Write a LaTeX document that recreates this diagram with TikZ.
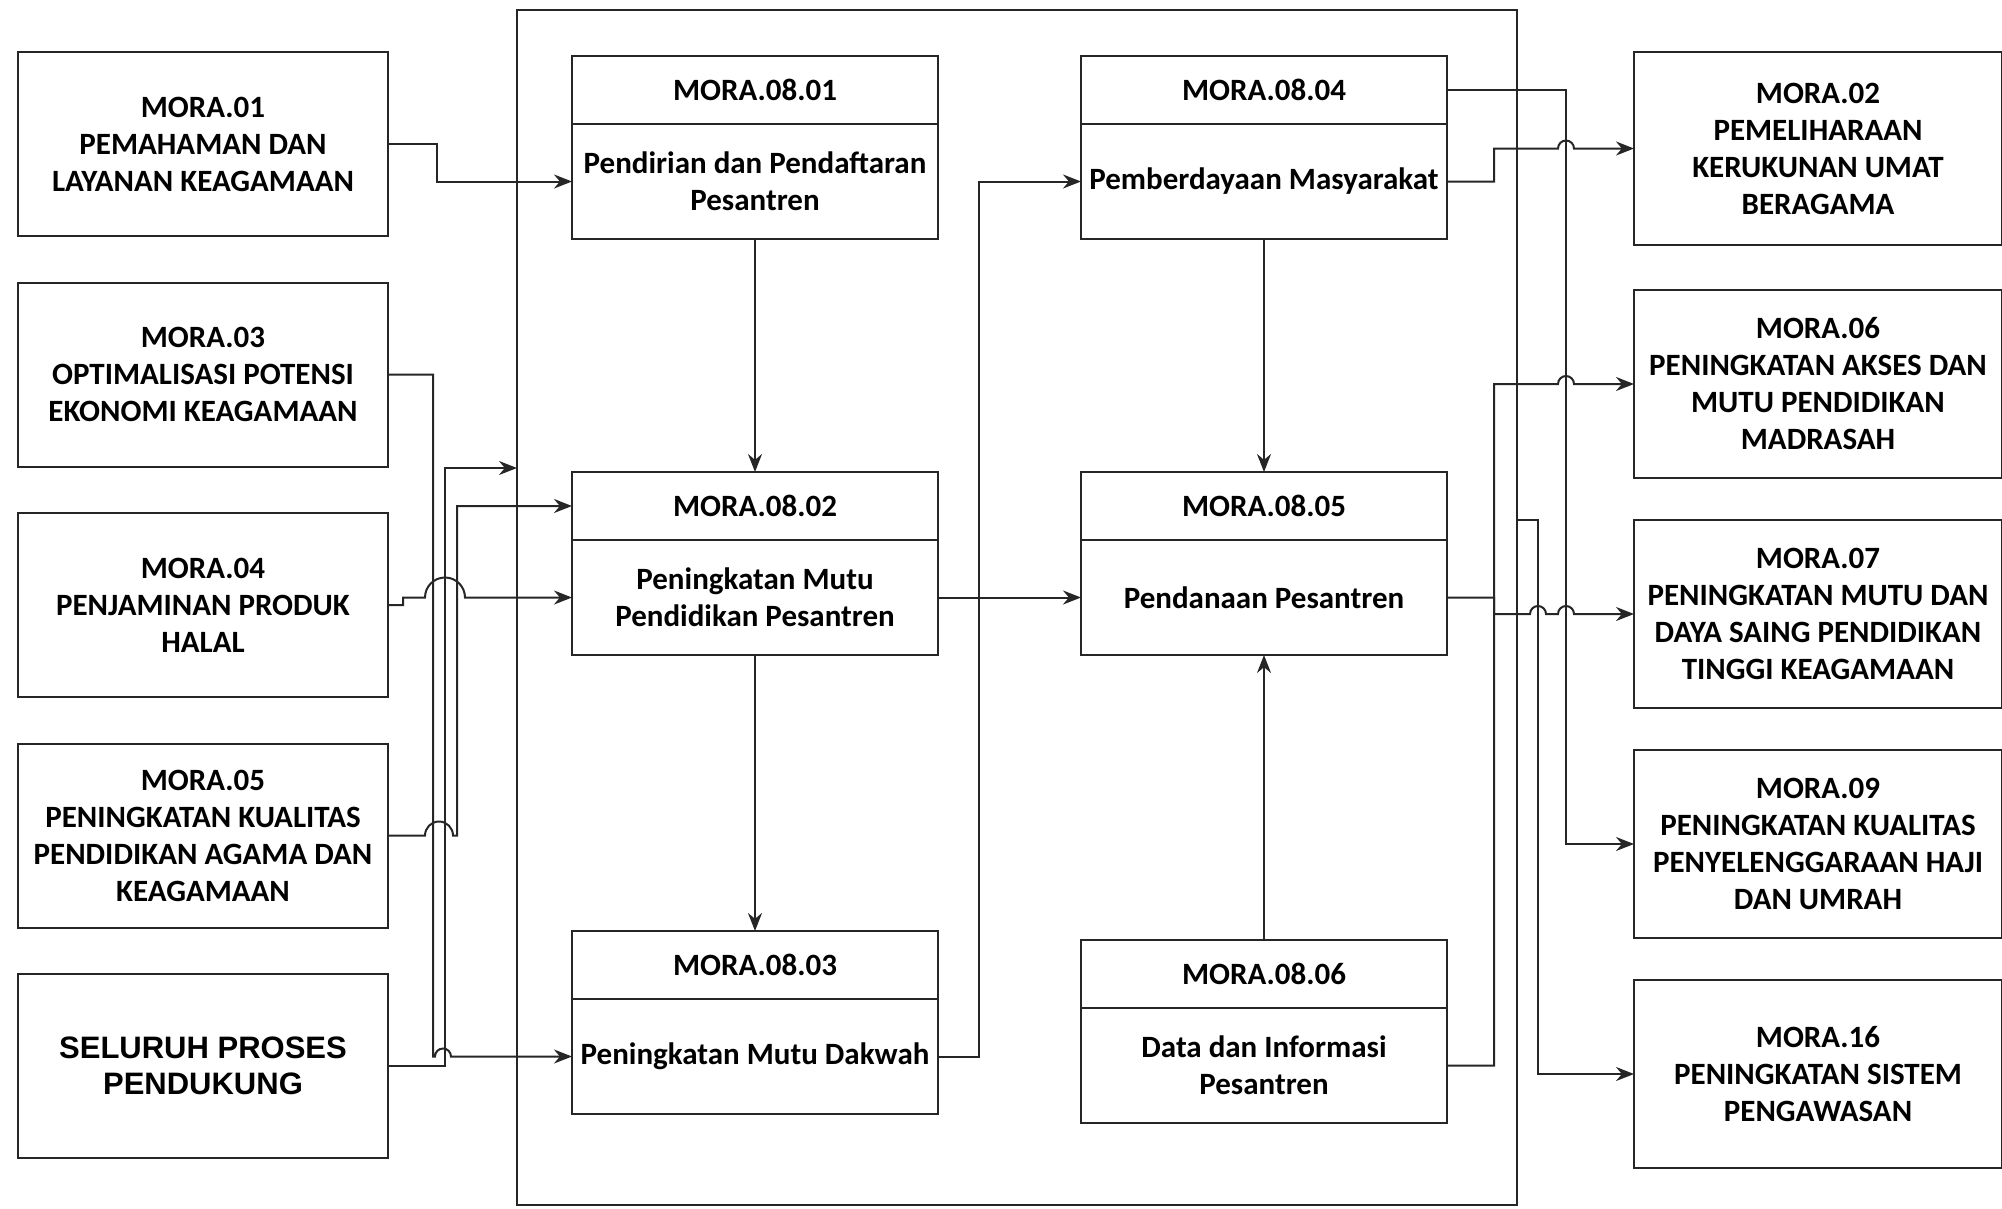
\documentclass[tikz,border=0pt]{standalone}
\usepackage{fontspec}
\setmainfont{Carlito}
\newfontfamily\arialfont{Liberation Sans}
\usetikzlibrary{positioning,arrows.meta,calc}

\begin{document}
\begin{tikzpicture}[x=1pt, y=-1pt,
    every node/.style={font=\fontsize{31}{37}\selectfont\bfseries, align=center, text=black},
    srcbox/.style={draw=black!85, rectangle, line width=2pt, minimum width=370pt, minimum height=184pt, inner sep=0pt, outer sep=0pt},
    goalbox/.style={draw=black!85, rectangle, line width=2pt, minimum width=368pt, minimum height=188pt, inner sep=0pt, outer sep=0pt},
    hdrbox/.style={draw=black!85, rectangle, line width=2pt, minimum width=366pt, minimum height=68pt, inner sep=0pt, outer sep=0pt},
    txtbox/.style={draw=black!85, rectangle, line width=2pt, minimum width=366pt, minimum height=115pt, inner sep=0pt, outer sep=0pt, below=0pt of #1},
    link/.style={draw=black!85, line width=2pt, -{Stealth[length=18pt, width=14pt]}}]
    \useasboundingbox (0,0) rectangle (2002,1208);

    % sasaran strategis asal (kiri)
    \node[srcbox](mora01) at (203,144){MORA.01\\PEMAHAMAN DAN\\LAYANAN KEAGAMAAN};
    \node[srcbox, below=46.5pt of mora01](mora03){MORA.03\\OPTIMALISASI POTENSI\\EKONOMI KEAGAMAAN};
    \node[srcbox, below=46.5pt of mora03](mora04){MORA.04\\PENJAMINAN PRODUK\\HALAL};
    \node[srcbox, below=46.5pt of mora04](mora05){MORA.05\\PENINGKATAN KUALITAS\\PENDIDIKAN AGAMA DAN\\KEAGAMAAN};
    \node[srcbox, below=46.5pt of mora05, font=\arialfont\fontsize{31}{36}\selectfont\bfseries](mora00){SELURUH PROSES\\PENDUKUNG};

    % proses pesantren
    \node[draw=black!85, line width=2pt, minimum width=1000pt, minimum height=1195pt, inner sep=0pt, outer sep=0pt](pesantren) at (1017,607.5){};
    \node[hdrbox](mora0801h) at (755,90){MORA.08.01};
    \node[txtbox=mora0801h](mora0801){Pendirian dan Pendaftaran\\Pesantren};
    \node[hdrbox](mora0802h) at (755,506){MORA.08.02};
    \node[txtbox=mora0802h](mora0802){Peningkatan Mutu\\Pendidikan Pesantren};
    \node[hdrbox](mora0803h) at (755,965){MORA.08.03};
    \node[txtbox=mora0803h](mora0803){Peningkatan Mutu Dakwah};
    \node[hdrbox](mora0804h) at (1264,90){MORA.08.04};
    \node[txtbox=mora0804h](mora0804){Pemberdayaan Masyarakat};
    \node[hdrbox](mora0805h) at (1264,506){MORA.08.05};
    \node[txtbox=mora0805h](mora0805){Pendanaan Pesantren};
    \node[hdrbox](mora0806h) at (1264,974){MORA.08.06};
    \node[txtbox=mora0806h](mora0806){Data dan Informasi\\Pesantren};

    % sasaran strategis tujuan (kanan)
    \node[goalbox, minimum height=193pt](mora02) at (1818,148.5){MORA.02\\PEMELIHARAAN\\KERUKUNAN UMAT\\BERAGAMA};
    \node[goalbox](mora06) at (1818,384){MORA.06\\PENINGKATAN AKSES DAN\\MUTU PENDIDIKAN\\MADRASAH};
    \node[goalbox, below=42pt of mora06](mora07){MORA.07\\PENINGKATAN MUTU DAN\\DAYA SAING PENDIDIKAN\\TINGGI KEAGAMAAN};
    \node[goalbox, below=42pt of mora07](mora09){MORA.09\\PENINGKATAN KUALITAS\\PENYELENGGARAAN HAJI\\DAN UMRAH};
    \node[goalbox, below=42pt of mora09](mora16){MORA.16\\PENINGKATAN SISTEM\\PENGAWASAN};

    % masukan
    \draw[link](mora01.east) -- (437,144) |- (mora0801.west);
    \draw[link](mora03.east) -| (433,1056.5) -- (435,1056.5) arc[start angle=180, end angle=360, radius=8] -- (mora0803.west);
    \draw[link](mora04.east) -- (403,605) |- (425,597.5) arc[start angle=180, end angle=360, radius=20] -- (mora0802.west);
    \draw[link](mora05.east) -- (425,835.5) arc[start angle=180, end angle=360, radius=14] -- (457,835.5) |- (mora0802h.west);
    \draw[link](mora00.east) -| (445,468) -- (pesantren.west |- 0,468);

    % alur di dalam
    \draw[link](mora0801.south) -- (mora0802h.north);
    \draw[link](mora0802.south) -- (mora0803h.north);
    \draw[link](mora0802.east) -- (mora0805.west);
    \draw[link](mora0803.east) -- (979,1056.5) |- (mora0804.west);
    \draw[link](mora0804.south) -- (mora0805h.north);
    \draw[link](mora0806h.north) -- (mora0805.south);

    % keluaran
    \draw[link](mora0804h.east) -- (1566,90) |- (mora09.west);
    \draw[link](mora0804.east) -- (1494,181.5) |- (1558,148.5) arc[start angle=180, end angle=360, radius=8] -- (mora02.west);
    \draw[link](mora0806.east) -- (1494,1065.5) |- (1558,384) arc[start angle=180, end angle=360, radius=8] -- (mora06.west);
    \draw[link](mora0805.east) -- (1494,597.5) |- (1530,614) arc[start angle=180, end angle=360, radius=8] -- (1558,614) arc[start angle=180, end angle=360, radius=8] -- (mora07.west);
    \draw[link](pesantren.east |- 0,520) -- (1538,520) |- (mora16.west);
\end{tikzpicture}
\end{document}
